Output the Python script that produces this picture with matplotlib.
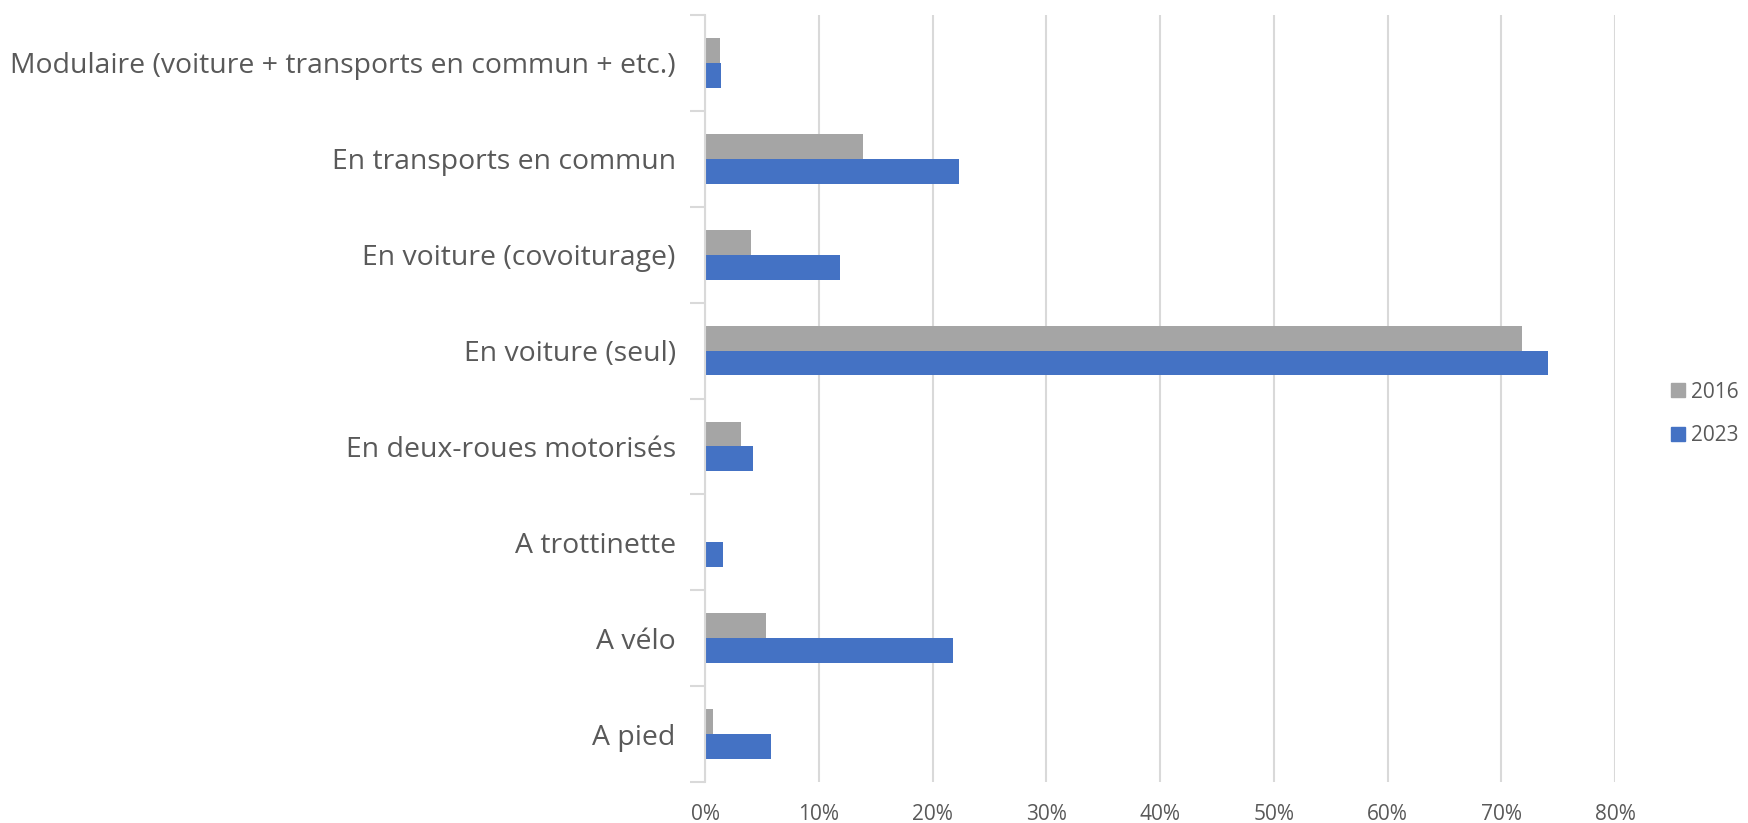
import matplotlib
matplotlib.use("Agg")
import matplotlib.pyplot as plt
import numpy as np
from matplotlib.patches import Patch

categories = ["A pied", "A vélo", "A trottinette", "En deux-roues motorisés",
              "En voiture (seul)", "En voiture (covoiturage)",
              "En transports en commun",
              "Modulaire (voiture + transports en commun + etc.)"]
values_2016 = [0.007, 0.054, 0.0, 0.032, 0.718, 0.040, 0.139, 0.013]
values_2023 = [0.058, 0.218, 0.016, 0.0425, 0.741, 0.119, 0.223, 0.0145]
xticks = [0, 0.1, 0.2, 0.3, 0.4, 0.5, 0.6, 0.7, 0.8]
xtick_labels = ["0%", "10%", "20%", "30%", "40%", "50%", "60%", "70%", "80%"]

plt.rcParams['font.family'] = ['Open Sans', 'DejaVu Sans']
TXT = "#595959"
GRID = "#D9D9D9"
C16 = "#A5A5A5"
C23 = "#4472C4"

fig = plt.figure(figsize=(17.48, 8.23), dpi=100)
ax = fig.add_axes([705/1748, 1-782/823, (1615-705)/1748, (782-15)/823])

y = np.arange(len(categories))
h = 0.26
ax.barh(y + h/2, values_2016, height=h, color=C16, zorder=3)
ax.barh(y - h/2, values_2023, height=h, color=C23, zorder=3)

ax.set_ylim(-0.5, len(categories) - 0.5)
ax.set_xlim(0, 0.8)
ax.set_xticks(xticks)
ax.set_xticklabels(xtick_labels, fontsize=15, color=TXT)
ax.set_yticks(y)
ax.set_yticklabels(categories, fontsize=20.4, color=TXT)
ax.set_yticks(np.arange(len(categories) + 1) - 0.5, minor=True)
ax.tick_params(axis='y', which='major', length=0, pad=21)
ax.tick_params(axis='y', which='minor', length=11, width=1.5, color=GRID)
ax.tick_params(axis='x', which='major', length=0, pad=16)
ax.grid(axis='x', color=GRID, linewidth=1.5, zorder=0)
for s in ['top', 'right', 'bottom']:
    ax.spines[s].set_visible(False)
ax.spines['left'].set_color(GRID)
ax.spines['left'].set_linewidth(1.5)
ax.spines['left'].set_zorder(4)

handles = [Patch(color=C16, label="2016"), Patch(color=C23, label="2023")]
fig.legend(handles=handles, loc='center left', bbox_to_anchor=(1671/1748, 1-414/823),
           frameon=False, fontsize=15, labelcolor=TXT, handlelength=0.65,
           handleheight=0.65, handletextpad=0.3, labelspacing=1.1,
           borderaxespad=0, borderpad=0)

fig.savefig("out.png", dpi=100, facecolor="white")
